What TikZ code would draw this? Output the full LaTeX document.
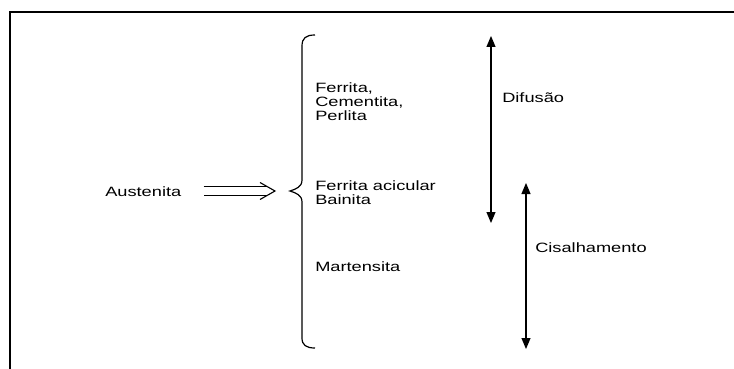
\documentclass[tikz,border=0pt]{standalone}
\usepackage{fontspec}
\setmainfont{Liberation Sans}
\usetikzlibrary{arrows.meta}

\tikzset{
  txt/.style={font=\fontsize{13.5}{13.6}\selectfont, inner sep=0pt, xscale=1.35, align=left},
  spanarrow/.style={line width=1.2pt, {Triangle[length=11pt,width=9pt]}-{Triangle[length=11pt,width=9pt]}},
  dbl/.style={double, double distance=7.5pt, line width=1.1pt},
}

\begin{document}
\begin{tikzpicture}[x=1pt,y=-1pt]
\useasboundingbox (0,0) rectangle (734,369);
% frame
\draw[line width=2pt] (10,369) -- (10,12.5) -- (734,12.5);

\node[txt, anchor=base west] (aus) at (105,196.6) {Austenita};

% brace
\coordinate (tip) at (290,191);
\draw[line width=1.2pt] (315,35) .. controls (306,35) and (302,38) .. (302,46)
  -- (302,180) .. controls (302,187) and (296,189) .. (tip)
  .. controls (296,193) and (302,195) .. (302,202)
  -- (302,338) .. controls (302,345) and (306,348) .. (315,348);

% double arrow
\coordinate (arr s) at ([xshift=22pt]aus.east |- tip);
\coordinate (arr e) at ([xshift=-15pt]tip);
\draw[dbl] (arr s) -- ([xshift=-8pt]arr e);
\draw[line width=1.1pt] ([shift={(-15,-8.5)}]arr e) -- (arr e) -- ([shift={(-15,8.5)}]arr e);

\node[txt, anchor=north west] (fcp) at (315,83) {Ferrita,\\Cementita,\\Perlita};
\node[txt, anchor=north west] (fab) at (315,180.8) {Ferrita acicular\\Bainita};
\node[txt, anchor=base west] (mar) at (315,271.6) {Martensita};

% ranges
\coordinate (dif top) at (491,36);
\coordinate (dif bot) at (491,223);
\coordinate (cis top) at (526,183);
\coordinate (cis bot) at (526,349);
\draw[spanarrow] (dif top) -- (dif bot);
\draw[spanarrow] (cis top) -- (cis bot);

\node[txt, anchor=base west] (dif) at (502,102.7) {Difusão};
\node[txt, anchor=base west] (cis) at (535,252.5) {Cisalhamento};
\end{tikzpicture}
\end{document}
